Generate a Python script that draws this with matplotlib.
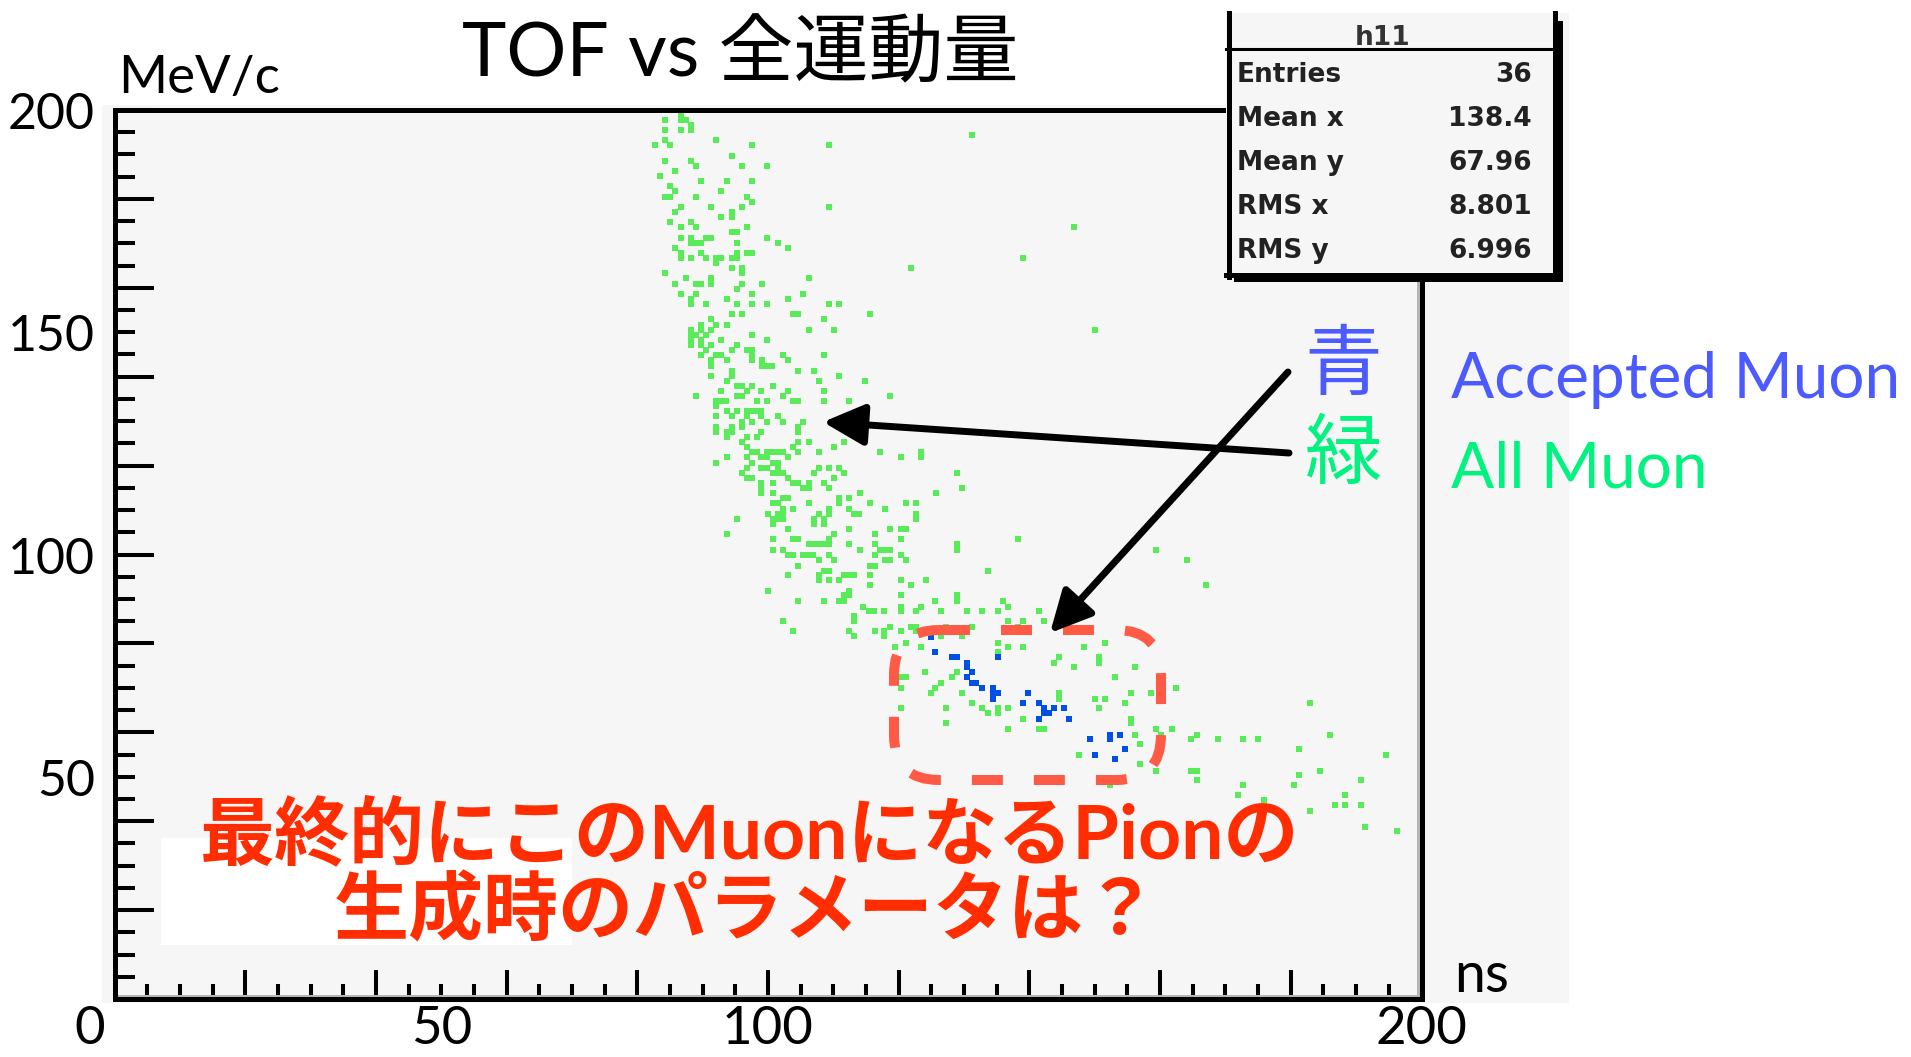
import matplotlib
matplotlib.use('Agg')
import matplotlib.pyplot as plt
import matplotlib.transforms as mtransforms
from matplotlib.patches import Rectangle, FancyBboxPatch, FancyArrowPatch, ArrowStyle
from matplotlib.lines import Line2D
from matplotlib.ticker import MultipleLocator

W, H = 1911, 1057

# all muons (green): (TOF [ns], total momentum [MeV/c])
all_muon_pts = [
    (82.7, 199.9), (86.7, 198.8), (86.7, 197.7), (87.5, 197.7), (84.2, 197.7), (88.2, 196.6),
    (88.2, 195.4), (84.2, 195.4), (86.7, 195.4), (131.2, 194.3), (84.2, 193.2), (92.1, 193.2),
    (82.7, 192.1), (85.0, 192.1), (97.5, 192.1), (109.3, 192.1), (94.5, 189.6), (84.2, 188.5),
    (88.2, 188.5), (89.0, 187.3), (96.0, 187.3), (99.9, 187.3), (85.8, 186.2), (83.5, 185.1),
    (89.7, 184.0), (93.7, 184.0), (97.5, 184.0), (85.0, 182.8), (85.8, 181.7), (92.8, 181.7),
    (84.2, 180.4), (85.0, 180.4), (89.0, 180.4), (96.8, 180.4), (97.5, 179.2), (86.7, 178.1),
    (91.3, 178.1), (96.0, 178.1), (109.3, 178.1), (85.8, 177.0), (94.5, 177.0), (92.8, 175.9),
    (94.5, 175.9), (85.0, 174.7), (88.2, 174.7), (86.7, 173.6), (89.0, 173.6), (96.8, 173.6),
    (94.5, 172.5), (95.2, 172.5), (86.7, 171.1), (88.2, 171.1), (90.5, 171.1), (91.3, 171.1),
    (99.9, 171.1), (88.2, 170.0), (89.0, 170.0), (89.8, 170.0), (95.2, 170.0), (101.5, 170.0),
    (85.8, 168.9), (103.0, 168.9), (86.7, 167.8), (89.8, 167.8), (95.2, 167.8), (96.8, 167.8),
    (97.5, 167.8), (86.7, 166.6), (88.2, 166.6), (90.5, 166.6), (92.1, 166.6), (92.8, 166.6),
    (94.5, 166.6), (95.2, 166.6), (92.1, 165.5), (94.5, 164.4), (96.0, 164.4), (121.9, 164.4),
    (84.2, 163.3), (96.0, 163.3), (87.5, 162.1), (91.3, 162.1), (106.2, 162.1), (85.8, 160.8),
    (89.0, 160.8), (89.8, 160.8), (91.3, 160.8), (96.0, 160.8), (99.1, 160.8), (95.2, 159.7),
    (86.7, 158.5), (89.0, 158.5), (97.5, 158.5), (105.3, 158.5), (88.2, 157.4), (93.7, 157.4),
    (103.0, 157.4), (88.2, 156.3), (90.5, 156.3), (95.2, 156.3), (97.5, 156.3), (99.9, 156.3),
    (109.3, 156.3), (110.8, 156.3), (94.5, 154.0), (96.0, 154.0), (103.8, 154.0), (104.6, 154.0),
    (115.6, 154.0), (91.3, 152.9), (108.5, 152.9), (89.8, 151.7), (92.1, 151.7), (93.7, 151.7),
    (88.2, 150.5), (89.8, 150.5), (91.3, 150.5), (106.2, 150.5), (110.1, 150.5), (88.2, 149.4),
    (89.0, 149.4), (90.5, 149.4), (97.5, 149.4), (88.2, 148.3), (89.8, 148.3), (92.8, 148.3),
    (99.9, 148.3), (88.2, 147.1), (89.8, 147.1), (91.3, 147.1), (95.2, 147.1), (90.5, 146.0),
    (94.5, 146.0), (96.8, 146.0), (97.5, 146.0), (89.8, 144.9), (92.1, 144.9), (92.8, 144.9),
    (97.5, 144.9), (102.3, 144.9), (108.5, 144.9), (91.3, 143.8), (93.7, 143.8), (97.5, 143.8),
    (99.1, 143.8), (103.0, 143.8), (91.3, 142.5), (99.1, 142.5), (99.9, 142.5), (100.6, 142.5),
    (94.5, 141.2), (104.6, 141.2), (107.0, 141.2), (91.3, 140.1), (94.5, 140.1), (110.8, 140.1),
    (146.8, 173.6), (139.0, 166.6), (150.0, 150.4), (159.3, 100.9), (164.1, 98.7), (167.1, 93.1),
    (93.7, 139.0), (107.8, 139.0), (114.8, 139.0), (95.2, 137.8), (96.0, 137.8), (97.5, 137.8),
    (100.7, 137.8), (92.8, 136.7), (96.8, 136.7), (99.0, 136.7), (103.0, 136.7), (108.5, 136.7),
    (89.0, 135.6), (95.2, 135.6), (96.0, 135.6), (102.3, 135.6), (118.6, 135.6), (92.1, 134.5),
    (92.8, 134.5), (93.6, 134.5), (98.3, 134.5), (99.8, 134.5), (103.8, 134.5), (104.6, 134.5),
    (108.5, 134.5), (112.4, 134.5), (92.1, 133.3), (93.7, 132.2), (95.2, 132.2), (96.8, 132.2),
    (97.5, 132.2), (98.3, 132.2), (99.0, 132.2), (92.1, 131.1), (94.5, 131.1), (96.8, 131.1),
    (99.0, 131.1), (101.5, 131.1), (96.0, 129.7), (97.5, 129.7), (99.8, 129.7), (102.3, 129.7),
    (105.3, 129.7), (92.1, 128.6), (94.5, 128.6), (96.0, 128.6), (104.6, 128.6), (92.1, 127.5),
    (93.7, 127.5), (94.5, 127.5), (99.0, 127.5), (104.6, 127.5), (93.7, 126.4), (96.8, 126.4),
    (98.3, 126.4), (96.0, 125.2), (104.6, 125.2), (106.2, 125.2), (111.6, 125.2), (96.8, 124.1),
    (103.8, 124.1), (110.1, 124.1), (97.5, 123.0), (98.3, 123.0), (99.8, 123.0), (100.6, 123.0),
    (101.5, 123.0), (102.3, 123.0), (104.6, 123.0), (107.8, 123.0), (117.1, 123.0), (123.4, 123.0),
    (93.7, 121.9), (96.8, 121.9), (99.0, 121.9), (99.8, 121.9), (103.0, 121.9), (120.3, 121.9),
    (123.4, 121.9), (92.1, 120.5), (97.5, 120.5), (100.7, 120.5), (101.5, 120.5), (96.8, 119.4),
    (99.0, 119.4), (99.8, 119.4), (101.5, 119.4), (107.8, 119.4), (109.3, 119.4), (110.8, 119.4),
    (96.0, 118.3), (100.7, 118.3), (101.5, 118.3), (102.3, 118.3), (107.0, 118.3), (111.6, 118.3),
    (128.9, 118.3), (96.8, 117.1), (97.5, 117.1), (103.0, 117.1), (110.1, 117.1), (99.0, 116.0),
    (100.7, 116.0), (103.8, 116.0), (104.6, 116.0), (106.2, 116.0), (108.5, 116.0), (99.0, 114.9),
    (105.3, 114.9), (106.2, 114.9), (109.3, 114.9), (129.7, 114.9), (99.0, 113.8), (100.7, 113.8),
    (114.1, 113.8), (125.7, 113.8), (102.3, 112.6), (103.0, 112.6), (110.8, 112.6), (112.4, 112.6),
    (100.7, 111.5), (101.5, 111.5), (106.2, 111.5), (110.8, 111.5), (115.6, 111.5), (121.1, 111.5),
    (122.6, 111.5), (102.3, 110.2), (103.8, 110.2), (109.3, 110.2), (112.4, 110.2), (117.9, 110.2),
    (100.0, 109.0), (101.5, 109.0), (102.3, 109.0), (107.8, 109.0), (109.3, 109.0), (113.1, 109.0),
    (113.9, 109.0), (122.6, 109.0), (95.2, 107.9), (100.7, 107.9), (101.5, 107.9), (102.3, 107.9),
    (107.0, 107.9), (108.5, 107.9), (122.6, 107.9), (100.7, 106.8), (107.0, 106.8), (108.5, 106.8),
    (103.0, 105.7), (112.4, 105.7), (118.6, 105.7), (120.3, 105.7), (121.1, 105.7), (93.7, 104.5),
    (110.1, 104.5), (116.3, 104.5), (100.7, 103.4), (103.8, 103.4), (104.6, 103.4), (109.3, 103.4),
    (120.3, 103.4), (138.2, 103.4), (106.2, 102.3), (107.0, 102.3), (107.8, 102.3), (108.5, 102.3),
    (109.3, 102.3), (112.4, 102.3), (116.3, 102.3), (128.9, 102.3), (100.7, 100.9), (102.3, 100.9),
    (114.1, 100.9), (117.1, 100.9), (117.9, 100.9), (118.6, 100.9), (128.9, 100.9), (103.0, 99.8),
    (103.8, 99.8), (105.3, 99.8), (106.1, 99.8), (106.9, 99.8), (109.3, 99.8), (116.3, 99.8),
    (120.3, 99.8), (107.8, 98.7), (110.1, 98.7), (117.9, 98.7), (118.6, 98.7), (121.1, 98.7),
    (104.6, 97.5), (115.6, 97.5), (116.3, 97.5), (108.5, 96.4), (109.3, 96.4), (133.6, 96.4),
    (103.0, 95.3), (107.8, 95.3), (111.6, 95.3), (112.4, 95.3), (113.1, 95.3), (115.6, 95.3),
    (107.8, 94.2), (109.3, 94.2), (110.8, 94.2), (120.3, 94.2), (124.2, 94.2), (115.6, 93.1),
    (121.9, 93.1), (100.0, 91.9), (112.4, 91.9), (111.6, 90.8), (112.4, 90.8), (120.3, 90.8),
    (128.9, 90.8), (104.6, 89.5), (108.5, 89.5), (110.8, 89.5), (111.6, 89.5), (113.1, 86.1),
    (102.3, 85.0), (113.1, 85.0), (103.8, 82.7), (112.4, 82.7), (113.1, 81.6),
    (125.6, 89.5), (128.9, 89.5), (136.0, 89.5), (114.5, 88.3), (120.3, 88.3), (123.4, 88.3),
    (136.7, 88.3), (115.4, 87.2), (116.2, 87.2), (117.8, 87.2), (120.3, 87.2), (122.6, 87.2),
    (126.5, 87.2), (130.4, 87.2), (132.7, 87.2), (135.2, 87.2), (141.4, 87.2), (136.7, 85.0),
    (139.0, 85.0), (142.3, 85.0), (118.6, 83.8), (121.9, 83.8), (122.7, 83.8), (127.3, 83.8),
    (131.2, 83.8), (138.3, 83.8), (116.4, 82.7), (117.8, 82.7), (120.3, 82.7), (122.7, 82.7),
    (117.8, 81.6), (126.5, 81.6), (129.7, 81.6), (121.1, 80.2), (135.2, 80.2), (151.5, 80.2),
    (119.5, 79.1), (123.4, 79.1), (136.7, 79.1), (139.0, 79.1), (148.4, 79.1), (135.2, 78.0),
    (144.5, 76.9), (150.7, 76.9), (143.8, 75.7), (150.7, 75.7), (146.8, 74.6), (156.2, 74.6),
    (124.1, 73.5), (128.9, 73.5), (120.3, 72.4), (121.1, 72.4), (128.1, 72.4), (153.1, 72.4),
    (126.5, 71.0), (120.3, 69.9), (125.6, 69.9), (162.5, 69.9), (124.9, 68.8), (129.7, 68.8),
    (144.5, 68.8), (155.5, 68.8), (158.6, 68.8), (144.5, 67.6), (150.0, 67.6), (151.5, 67.6),
    (131.2, 66.5), (154.7, 66.5), (182.9, 66.5), (120.3, 65.4), (127.3, 65.4), (132.7, 65.4),
    (135.2, 65.4), (136.7, 65.4), (150.7, 65.4), (133.6, 64.3), (135.2, 64.3), (139.0, 63.1),
    (155.5, 63.1), (127.3, 62.0), (155.5, 62.0), (136.7, 60.7), (141.4, 60.7), (142.3, 60.7),
    (159.3, 60.7), (161.8, 60.7), (156.2, 59.5), (160.1, 59.5), (165.6, 59.5), (186.0, 59.5),
    (119.5, 58.4), (164.8, 58.4), (168.9, 58.4), (172.7, 58.4), (175.0, 58.4), (157.0, 57.3),
    (181.3, 56.2), (147.6, 55.0), (194.6, 55.0), (157.0, 52.8), (159.3, 51.4), (164.8, 51.4),
    (165.6, 51.4), (184.4, 51.4), (181.3, 50.3), (165.6, 49.2), (190.7, 49.2), (152.3, 48.1),
    (172.7, 48.1), (180.5, 48.1), (171.9, 45.8), (188.3, 45.8), (175.9, 44.7), (186.7, 43.6),
    (188.3, 43.6), (190.7, 43.6), (182.9, 42.4), (191.4, 38.8), (196.2, 37.7),
]

# accepted muons (blue)
accepted_muon_pts = [
    (124.9, 81.4), (125.6, 78.0), (128.1, 76.9), (128.9, 76.9), (135.2, 76.9), (130.4, 75.7),
    (130.4, 74.6), (131.2, 73.5), (130.4, 72.4), (131.2, 71.0), (131.9, 71.0), (132.7, 69.9),
    (134.4, 69.9), (134.4, 68.8), (135.2, 68.8), (139.8, 68.8), (134.4, 67.6), (139.0, 66.5),
    (141.4, 66.5), (142.3, 65.4), (143.8, 65.4), (145.3, 65.4), (142.3, 64.3), (143.0, 64.3),
    (141.4, 63.1), (146.1, 63.1), (152.3, 59.5), (153.8, 59.5), (149.2, 58.4), (152.3, 58.4),
    (154.7, 56.2), (150.0, 55.0), (153.1, 53.9),
]

all_tof = [p[0] for p in all_muon_pts]
all_mom = [p[1] for p in all_muon_pts]
acc_tof = [p[0] for p in accepted_muon_pts]
acc_mom = [p[1] for p in accepted_muon_pts]

stats_names = ['Entries', 'Mean x', 'Mean y', 'RMS x', 'RMS y']
stats_values = ['36', '138.4', '67.96', '8.801', '6.996']

xtick_vals = [0, 50, 100, 200]
ytick_vals = [200, 150, 100, 50]

LATIN_JP = ['Lato', 'Noto Sans CJK JP', 'DejaVu Sans']
PAD_GREY = '#f6f6f6'
GREEN = '#5aeb5a'
BLUE = '#0050e6'

fig = plt.figure(figsize=(W / 100, H / 100), dpi=100)
# image-pixel coordinates (origin top left)
img = mtransforms.Affine2D().scale(1 / W, -1 / H).translate(0, 1) + fig.transFigure

# ROOT canvas background
fig.add_artist(Rectangle((102, 105), 1467, 898, transform=img, fc=PAD_GREY, ec='none', zorder=-2))
fig.add_artist(Rectangle((1421, 13), 148, 95, transform=img, fc=PAD_GREY, ec='none', zorder=-2))

ax = fig.add_axes([114.5 / W, 1 - 999 / H, 1307 / W, 889 / H])
ax.set_facecolor(PAD_GREY)
ax.set_xlim(0, 200)
ax.set_ylim(0, 200)
for s in ax.spines.values():
    s.set_linewidth(3.6)
    s.set_color('black')

ax.scatter(all_tof, all_mom, marker='s', s=13, c=GREEN, linewidths=0, zorder=2)
ax.scatter(acc_tof, acc_mom, marker='s', s=13, c=BLUE, linewidths=0, zorder=2.1)

# frame shadow strips (bottom, right)
ax.add_patch(Rectangle((0, 0), 1, 4 / 889, transform=ax.transAxes, fc='#b4b4b4', ec='none', zorder=2.3))
ax.add_patch(Rectangle((1 - 5 / 1307, 0), 5 / 1307, 1, transform=ax.transAxes, fc='#b4b4b4', ec='none', zorder=2.3))

ax.xaxis.set_major_locator(MultipleLocator(20))
ax.xaxis.set_minor_locator(MultipleLocator(5))
ax.yaxis.set_major_locator(MultipleLocator(20))
ax.yaxis.set_minor_locator(MultipleLocator(5))
ax.tick_params(axis='x', which='major', direction='in', length=21, width=2.9, top=False, labelbottom=False)
ax.tick_params(axis='x', which='minor', direction='in', length=10.5, width=2.9, top=False)
ax.tick_params(axis='y', which='major', direction='in', length=28, width=2.9, right=False, labelleft=False)
ax.tick_params(axis='y', which='minor', direction='in', length=14.4, width=2.9, right=False)

# tick labels
ylab_tr = mtransforms.blended_transform_factory(fig.transFigure, ax.transData) + \
    mtransforms.ScaledTranslation(0, -5 / 100, fig.dpi_scale_trans)
for v in ytick_vals:
    ax.text(95 / W, v, str(v), transform=ylab_tr, ha='right', va='center',
            fontsize=36, family=LATIN_JP, clip_on=False)
xlab_tr = mtransforms.blended_transform_factory(ax.transData, fig.transFigure)
for v in xtick_vals:
    if v == 0:
        ax.text(v, 1 - 1030 / H, str(v), transform=xlab_tr + mtransforms.ScaledTranslation(-0.10, 0, fig.dpi_scale_trans),
                ha='right', va='center', fontsize=38, family=LATIN_JP, clip_on=False)
    else:
        ax.text(v, 1 - 1030 / H, str(v), transform=xlab_tr, ha='center', va='center',
                fontsize=38, family=LATIN_JP, clip_on=False)

fig.text(1454, 992, 'ns', transform=img, ha='left', va='baseline', fontsize=40, family=LATIN_JP)
fig.text(118, 93, 'MeV/c', transform=img, ha='left', va='baseline', fontsize=38, family=LATIN_JP)
fig.text(740, 76, 'TOF vs 全運動量', transform=img, ha='center', va='baseline', fontsize=54, family=LATIN_JP)

# stats box
fig.add_artist(Rectangle((1234, 21), 329, 261, transform=img, fc='black', ec='none', zorder=5))
fig.add_artist(Rectangle((1226, 13), 331, 264, transform=img, fc=PAD_GREY, ec='none', zorder=5.1))
for xs, ys, lw in [((1229, 1229), (13, 277), 3.6), ((1554.5, 1554.5), (13, 277), 3.6),
                   ((1226, 1557), (274.5, 274.5), 3.6), ((1226, 1557), (49, 49), 2.2)]:
    fig.add_artist(Line2D(xs, ys, transform=img, color='black', lw=lw, zorder=5.2))
fig.text(1383, 45, 'h11', transform=img, ha='center', va='baseline', fontsize=19,
         weight='bold', color='#333333', zorder=5.3)
for i, (name, val) in enumerate(zip(stats_names, stats_values)):
    yb = 82 + i * 44
    fig.text(1237, yb, name, transform=img, ha='left', va='baseline', fontsize=19,
             weight='bold', color='#222222', zorder=5.3)
    fig.text(1532, yb, val, transform=img, ha='right', va='baseline', fontsize=19,
             weight='bold', color='#222222', zorder=5.3)

# white cover in lower left
fig.add_artist(Rectangle((161, 838), 411, 107, transform=img, fc='white', ec='none', zorder=3))

# red dashed selection box
fig.add_artist(FancyBboxPatch((894, 630), 267, 150, boxstyle='round,pad=0,rounding_size=45',
                              transform=img, fc='none', ec='#ff5a46', lw=7.2,
                              linestyle=(0, (3.1, 3.1)), zorder=4))

# arrows
head = ArrowStyle('-|>', head_length=1.8, head_width=0.9)
for tail, tip in [((1289, 453), (823, 422)), ((1288, 372), (1050, 633))]:
    fig.add_artist(FancyArrowPatch(tail, tip, transform=img, arrowstyle=head, mutation_scale=14,
                                   lw=5, color='black', shrinkA=0, shrinkB=0, zorder=4.5))

# legend-like labels
fig.text(1343, 367, '青', transform=img, ha='center', va='center', fontsize=56,
         family=['Noto Sans CJK JP'], color='#4b5bff', zorder=6)
fig.text(1343, 456, '緑', transform=img, ha='center', va='center', fontsize=56,
         family=['Noto Sans CJK JP'], color='#00f27f', zorder=6)
fig.text(1451, 398, 'Accepted Muon', transform=img, ha='left', va='baseline', fontsize=46,
         family=LATIN_JP, color='#4b5bff', zorder=6)
fig.text(1451, 487, 'All Muon', transform=img, ha='left', va='baseline', fontsize=46,
         family=LATIN_JP, color='#00f27f', zorder=6)

# question in red
fig.text(750, 835, '最終的にこのMuonになるPionの', transform=img, ha='center', va='center',
         fontsize=54, weight='bold', family=LATIN_JP, color='#ff2d00', zorder=6)
fig.text(746, 911, '生成時のパラメータは？', transform=img, ha='center', va='center',
         fontsize=54, weight='bold', family=LATIN_JP, color='#ff2d00', zorder=6)

fig.savefig('out.png', dpi=100)
